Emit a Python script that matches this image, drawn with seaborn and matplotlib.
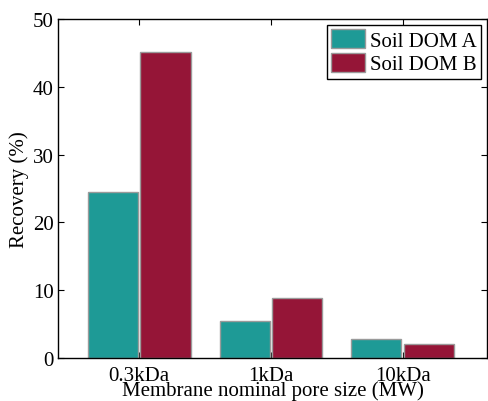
import pandas as pd
import matplotlib.pyplot as plt
import seaborn as sns

# Values
pore_sizes = ['0.3kDa', '1kDa', '10kDa']
dom_a = [24.5, 5.5, 2.8]
dom_b = [45.2, 8.8, 2.0]
series_names = ['Soil DOM A', 'Soil DOM B']
y_ticks = [0, 10, 20, 30, 40, 50]

df = pd.DataFrame({
    'pore': pore_sizes * 2,
    'recovery': dom_a + dom_b,
    'sample': [series_names[0]] * 3 + [series_names[1]] * 3,
})

sns.set_style('ticks')
plt.rcParams['font.family'] = ['Liberation Serif', 'DejaVu Serif']
plt.rcParams['text.color'] = 'black'
plt.rcParams['axes.labelcolor'] = 'black'
plt.rcParams['xtick.color'] = 'black'
plt.rcParams['ytick.color'] = 'black'

fig = plt.figure(figsize=(4.88, 4.02), dpi=100)
ax = fig.add_axes([58 / 488, 43 / 402, 429 / 488, 339 / 402])

sns.barplot(data=df, x='pore', y='recovery', hue='sample',
            palette=['#1e9a96', '#951537'], saturation=1, width=0.8, gap=0.05,
            edgecolor='#9a9a9a', linewidth=1.0, errorbar=None, ax=ax)

ax.set_xlim(-0.616, 2.64)
ax.set_ylim(0, 50)
ax.set_yticks(y_ticks)
ax.set_xlabel('Membrane nominal pore size (MW)', fontsize=15, labelpad=-4)
ax.set_ylabel('Recovery (%)', fontsize=15, labelpad=3)
ax.tick_params(axis='both', direction='in', length=4, width=0.8,
               labelsize=15, top=True, right=True, pad=3)
ax.tick_params(axis='x', pad=6)
for s in ax.spines.values():
    s.set_visible(True)
    s.set_linewidth(1.0)
    s.set_color('black')

leg = ax.legend(loc='upper right', fontsize=15, frameon=True, fancybox=False,
                edgecolor='black', framealpha=1, borderpad=0.2,
                handlelength=1.6, handleheight=1.0, handletextpad=0.25,
                labelspacing=0.1, borderaxespad=0.3)
leg.get_frame().set_linewidth(1.0)

fig.savefig('out.png', dpi=100)
